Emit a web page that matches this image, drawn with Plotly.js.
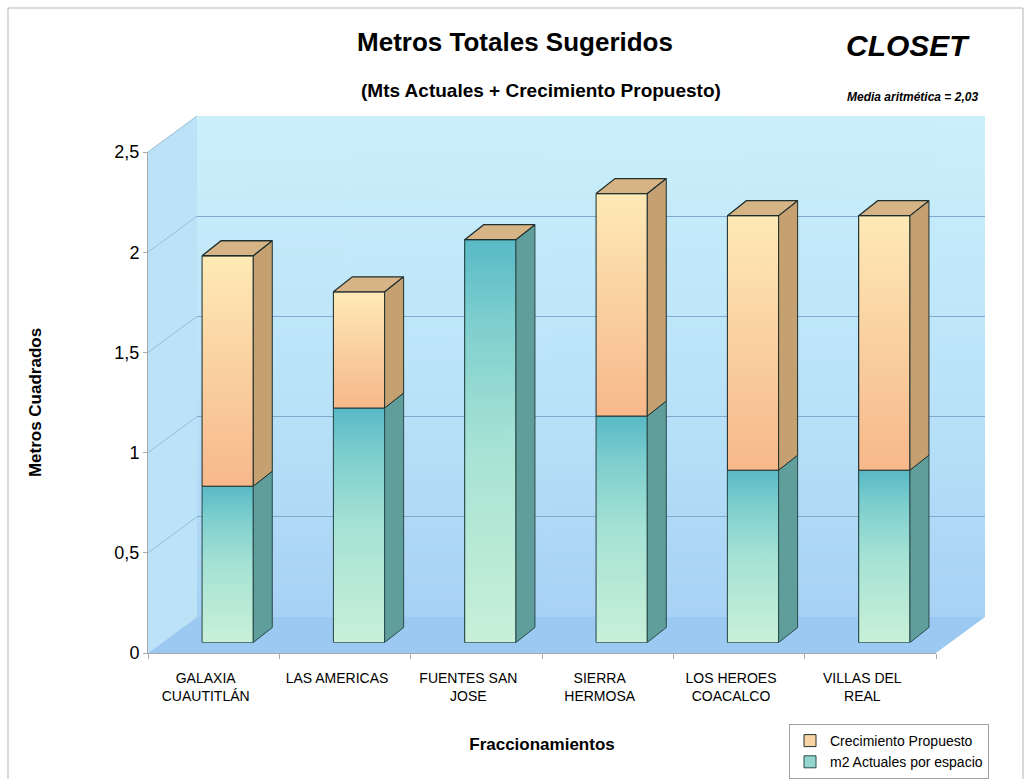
<!DOCTYPE html>
<html><head><meta charset="utf-8">
<script src="https://cdn.plot.ly/plotly-3.0.1.min.js"></script>
<style>html,body{margin:0;padding:0;background:#fff;} #chart{width:1031px;height:779px;}</style>
</head><body><div id="chart"></div>
<script>
// ---- data ----
const categories = ['GALAXIA<br>CUAUTITLÁN','LAS AMERICAS','FUENTES SAN<br>JOSE','SIERRA<br>HERMOSA','LOS HEROES<br>COACALCO','VILLAS DEL<br>REAL'];
const actuales = [0.78, 1.17, 2.01, 1.13, 0.86, 0.86];
const crecimiento = [1.15, 0.58, 0, 1.11, 1.27, 1.27];
const yTickVals = [0, 0.5, 1, 1.5, 2, 2.5];
const yTickText = ['0','0,5','1','1,5','2','2,5'];
const seriesNames = ['m2 Actuales por espacio','Crecimiento Propuesto'];

// ---- geometry / style ----
const W=1031, H=779, Y_MAX=2.5;
const front = {x0:148, x1:936, y0:653, y1:152};
const barOff = {dx:14, dy:10.5};
const backOff = {dx:49, dy:36};
const depthPx = {dx:19, dy:15};
const BAR_W = 0.39;
const FONT = 'Liberation Sans, Arial, sans-serif';
const n = categories.length;
const catPx = (front.x1-front.x0)/n;
const unitPx = (front.y0-front.y1)/Y_MAX;
const ddx = depthPx.dx/catPx, ddy = depthPx.dy/unitPx;

const px = x => x/W;
const py = y => 1 - y/H;
function dom(off){ return {x:[px(front.x0+off.dx), px(front.x1+off.dx)], y:[py(front.y0-off.dy), py(front.y1-off.dy)]}; }
const dBack = dom(backOff), dFront = dom({dx:0,dy:0}), dBar = dom(barOff);

const idx = categories.map((c,i)=>i);
const totals = actuales.map((a,i)=>a+crecimiento[i]);

function sidePolys(bases, tops){
  const xs=[], ys=[];
  idx.forEach(i=>{
    if (tops[i]-bases[i] <= 0) return;
    const xr = i + BAR_W/2;
    xs.push(xr, xr+ddx, xr+ddx, xr, xr, null);
    ys.push(bases[i], bases[i]+ddy, tops[i]+ddy, tops[i], bases[i], null);
  });
  return {xs, ys};
}
function topPolys(tops){
  const xs=[], ys=[];
  idx.forEach(i=>{
    const xl = i - BAR_W/2, xr = i + BAR_W/2, t = tops[i];
    xs.push(xl, xl+ddx, xr+ddx, xr, xl, null);
    ys.push(t, t+ddy, t+ddy, t, t, null);
  });
  return {xs, ys};
}
const sideA = sidePolys(idx.map(()=>0), actuales);
const sideC = sidePolys(actuales, totals);
const tops = topPolys(totals);

const edge = '#1f2f2f', edgeT = '#2a4a4a';
const traces = [
  // anchors so that the wall grid and the front axes are drawn
  {type:'scatter', mode:'markers', x:idx, y:totals, xaxis:'x', yaxis:'y', marker:{opacity:0}, showlegend:false, hoverinfo:'skip'},
  {type:'scatter', mode:'markers', x:idx, y:totals, xaxis:'x2', yaxis:'y2', marker:{opacity:0}, showlegend:false, hoverinfo:'skip'},
  {type:'bar', x:idx, y:actuales, name:seriesNames[0], width:BAR_W, xaxis:'x3', yaxis:'y3',
   marker:{color:'#93d6cf', line:{color:edgeT, width:1}}, hoverinfo:'y+name'},
  {type:'bar', x:idx, y:crecimiento, name:seriesNames[1], width:BAR_W, xaxis:'x3', yaxis:'y3',
   marker:{color:'#f9d3a3', line:{color:edge, width:1}}, hoverinfo:'y+name'}
];
// shaded front faces (gradient overlays of each bar segment)
function faceTrace(i, b, t, scale, lc){
  const xl = i - BAR_W/2, xr = i + BAR_W/2;
  return {type:'scatter', mode:'lines', x:[xl,xr,xr,xl,xl], y:[b,b,t,t,b], fill:'toself',
    fillgradient:{type:'vertical', colorscale:scale}, line:{color:lc, width:1},
    xaxis:'x3', yaxis:'y3', showlegend:false, hoverinfo:'skip'};
}
const tealScale = [[0,'rgb(200,240,216)'],[0.5,'rgb(165,226,212)'],[0.8,'rgb(125,206,206)'],[1,'rgb(88,185,198)']];
const orangeScale = [[0,'rgb(247,184,138)'],[0.5,'rgb(250,208,160)'],[1,'rgb(254,234,182)']];
idx.forEach(i=>{
  traces.push(faceTrace(i, 0, actuales[i], tealScale, edgeT));
  if (crecimiento[i] > 0) traces.push(faceTrace(i, actuales[i], totals[i], orangeScale, edge));
});
traces.push(
  {type:'scatter', mode:'lines', x:sideA.xs, y:sideA.ys, fill:'toself', fillcolor:'#5f9e9b',
   line:{color:edgeT, width:1}, xaxis:'x3', yaxis:'y3', showlegend:false, hoverinfo:'skip'},
  {type:'scatter', mode:'lines', x:sideC.xs, y:sideC.ys, fill:'toself', fillcolor:'#c5a171',
   line:{color:edge, width:1}, xaxis:'x3', yaxis:'y3', showlegend:false, hoverinfo:'skip'},
  {type:'scatter', mode:'lines', x:tops.xs, y:tops.ys, fill:'toself', fillcolor:'#d7b485',
   line:{color:edge, width:1.3}, xaxis:'x3', yaxis:'y3', showlegend:false, hoverinfo:'skip'}
);

// back-wall gradient image
const cv = document.createElement('canvas'); cv.width=8; cv.height=256;
const cx = cv.getContext('2d');
const g = cx.createLinearGradient(0,0,0,256);
g.addColorStop(0,'rgb(203,240,251)'); g.addColorStop(0.5,'rgb(188,228,249)'); g.addColorStop(1,'rgb(168,210,245)');
cx.fillStyle=g; cx.fillRect(0,0,8,256);
const wallImg = cv.toDataURL();

function pathPx(pts){ return 'M' + pts.map(p=>px(p[0])+','+py(p[1])).join(' L') + ' Z'; }
const shapes = [
  {type:'rect', xref:'paper', yref:'paper', x0:px(8), x1:px(1023), y0:py(8), y1:py(800), line:{color:'#b5b5b5', width:1}, fillcolor:'rgba(0,0,0,0)', layer:'below'},
  {type:'path', xref:'paper', yref:'paper', path:pathPx([[front.x0,front.y0],[front.x0,front.y1],[front.x0+backOff.dx,front.y1-backOff.dy],[front.x0+backOff.dx,front.y0-backOff.dy]]),
   fillcolor:'rgb(188,226,248)', line:{width:0}, layer:'below'},
  {type:'path', xref:'paper', yref:'paper', path:pathPx([[front.x0,front.y0],[front.x1,front.y0],[front.x1+backOff.dx,front.y0-backOff.dy],[front.x0+backOff.dx,front.y0-backOff.dy]]),
   fillcolor:'rgb(155,201,242)', line:{width:0}, layer:'below'}
];
yTickVals.forEach(v=>{
  if (v===0) return;
  shapes.push({type:'line', xref:'paper', yref:'paper', x0:px(front.x0), y0:py(front.y0-v*unitPx), x1:px(front.x0+backOff.dx), y1:py(front.y0-backOff.dy-v*unitPx),
    line:{color:'rgb(150,190,218)', width:1}, layer:'below'});
});

const layout = {
  width:W, height:H, margin:{l:0,r:0,t:0,b:0},
  paper_bgcolor:'#ffffff', plot_bgcolor:'rgba(0,0,0,0)',
  separators:',.', barmode:'stack', bargap:0.61, showlegend:true,
  font:{family:FONT, color:'#000'},
  title:{text:'<b>Metros Totales Sugeridos</b>', x:px(515), y:py(42), xanchor:'center', yanchor:'middle', xref:'paper', yref:'paper',
    font:{size:26, family:FONT, color:'#000'}},
  images:[{source:wallImg, xref:'paper', yref:'paper', x:px(front.x0+backOff.dx), y:py(front.y1-backOff.dy),
    sizex:px(front.x1)-px(front.x0), sizey:(front.y0-front.y1)/H, sizing:'stretch', xanchor:'left', yanchor:'top', layer:'below'}],
  shapes:shapes,
  xaxis:{domain:dBack.x, range:[-0.5,n-0.5], visible:false, fixedrange:true, anchor:'y'},
  yaxis:{domain:dBack.y, range:[0,Y_MAX], tickmode:'array', tickvals:yTickVals.slice(1), showticklabels:false, ticks:'', showgrid:true,
    gridcolor:'rgb(128,170,205)', gridwidth:1, zeroline:false, showline:false, fixedrange:true, anchor:'x'},
  xaxis2:{domain:dFront.x, range:[-0.5,n-0.5], anchor:'y2', tickmode:'array', tickvals:idx, ticktext:categories, ticks:'',
    showgrid:false, zeroline:false, showline:true, linecolor:'#a9a9a9', linewidth:1,
    ticklabelstandoff:12, ticklabelshift:-8,
    tickfont:{size:14, family:FONT, color:'#000'},
    minor:{tickmode:'array', tickvals:idx.concat([n]).map(i=>i-0.5), ticks:'outside', ticklen:5, tickcolor:'#a9a9a9', showgrid:false},
    title:{text:'<b>Fraccionamientos</b>', font:{size:17, family:FONT, color:'#000'}, standoff:35}, automargin:false, fixedrange:true},
  yaxis2:{domain:dFront.y, range:[0,Y_MAX], anchor:'x2', tickmode:'array', tickvals:yTickVals, ticktext:yTickText, ticks:'outside', ticklen:4,
    tickcolor:'#a9a9a9', showgrid:false, zeroline:false, showline:true, linecolor:'#a9a9a9', linewidth:1,
    tickfont:{size:18, family:FONT, color:'#000'},
    title:{text:'<b>Metros Cuadrados</b>', font:{size:17, family:FONT, color:'#000'}, standoff:68}, automargin:false, fixedrange:true},
  xaxis3:{domain:dBar.x, range:[-0.5,n-0.5], visible:false, fixedrange:true, anchor:'y3'},
  yaxis3:{domain:dBar.y, range:[0,Y_MAX], visible:false, fixedrange:true, anchor:'x3'},
  legend:{x:px(789), y:py(724), xanchor:'left', yanchor:'top', traceorder:'reversed', bgcolor:'#ffffff', bordercolor:'#a0a0a0', borderwidth:1,
    font:{size:14, family:FONT, color:'#000'}, itemwidth:30},
  annotations:[
    {text:'<b>(Mts Actuales + Crecimiento Propuesto)</b>', xref:'paper', yref:'paper', x:px(541), y:py(90), xanchor:'center', yanchor:'middle', showarrow:false,
     font:{size:19, family:FONT, color:'#000'}},
    {text:'<b><i>CLOSET</i></b>', xref:'paper', yref:'paper', x:px(908), y:py(45), xanchor:'center', yanchor:'middle', showarrow:false,
     font:{size:30, family:FONT, color:'#000'}},
    {text:'<b><i>Media aritmética = 2,03</i></b>', xref:'paper', yref:'paper', x:px(912), y:py(97), xanchor:'center', yanchor:'middle', showarrow:false,
     font:{size:12, family:FONT, color:'#000'}}
  ]
};

Plotly.newPlot('chart', traces, layout, {displayModeBar:false, staticPlot:true});
</script>
</body></html>
